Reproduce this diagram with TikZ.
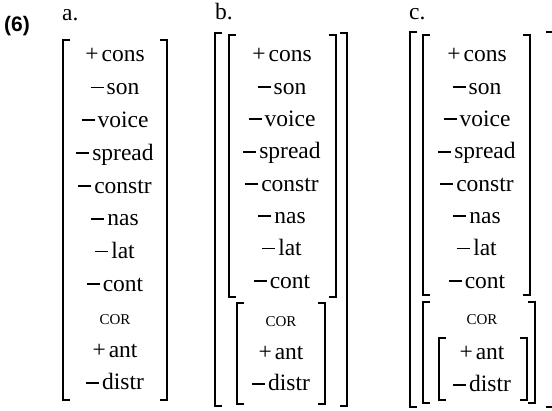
\documentclass[tikz,border=0pt]{standalone}
\usepackage{fontspec}
\setmainfont{Liberation Serif}
\newfontfamily\exfont{Liberation Sans}

\newcommand\fplus{+\kern3pt}
\newcommand\fminus{\rule[6.3pt]{13pt}{1.8pt}\kern3pt}
\newcommand\featcor{{\fontsize{15}{15}\selectfont COR}}
% square bracket pair: left x, top y, right x, bottom y
\newcommand\fbrk[4]{%
  \draw[brk] ({#1+7},#2) -| (#1,#4) -- ({#1+7},#4);
  \draw[brk] ({#3-7},#2) -| (#3,#4) -- ({#3-7},#4);}

\tikzset{
  feat/.style={anchor=base, inner sep=0pt, font=\fontsize{23.5}{28}\selectfont},
  lab/.style={anchor=base west, inner sep=0pt, font=\fontsize{23.5}{28}\selectfont},
  brk/.style={line width=1.2pt}
}

\begin{document}
\begin{tikzpicture}[x=1pt,y=-1pt]
  \useasboundingbox (0,0) rectangle (552,411);

  \node[anchor=base west, inner sep=0pt, font=\exfont\bfseries\fontsize{21}{21}\selectfont] (ex) at (4,32) {(6)};
  \node[lab] (la) at (62,21) {a.};
  \node[lab] (lb) at (215,20) {b.};
  \node[lab] (lc) at (409,20) {c.};

  % a.
  \foreach \f [count=\i] in {\fplus cons, \fminus son, \fminus voice, \fminus spread,
      \fminus constr, \fminus nas, \fminus lat, \fminus cont, \featcor, \fplus ant, \fminus distr}
    \node[feat] (a\i) at (115,{62+32.8*(\i-1)}) {\f};
  \fbrk{63}{40}{167}{400}

  % b.
  \foreach \f [count=\i] in {\fplus cons, \fminus son, \fminus voice, \fminus spread,
      \fminus constr, \fminus nas, \fminus lat, \fminus cont}
    \node[feat] (b\i) at (282,{62+32.3*(\i-1)}) {\f};
  \node[feat] (b9) at (281,327) {\featcor};
  \node[feat] (b10) at (281,360) {\fplus ant};
  \node[feat] (b11) at (281,391) {\fminus distr};
  \fbrk{215}{33}{347}{406}
  \fbrk{229}{35}{336}{297}
  \fbrk{237}{303}{325}{404}

  % c.
  \foreach \f [count=\i] in {\fplus cons, \fminus son, \fminus voice, \fminus spread,
      \fminus constr, \fminus nas, \fminus lat, \fminus cont}
    \node[feat] (c\i) at (477,{62+32.3*(\i-1)}) {\f};
  \node[feat] (c9) at (482,325) {\featcor};
  \node[feat] (c10) at (482,360) {\fplus ant};
  \node[feat] (c11) at (482,392) {\fminus distr};
  \fbrk{410}{32}{553}{407}
  \fbrk{423}{35}{530}{295}
  \fbrk{423}{302}{535}{403}
  \fbrk{439}{338}{527}{400}
\end{tikzpicture}
\end{document}
